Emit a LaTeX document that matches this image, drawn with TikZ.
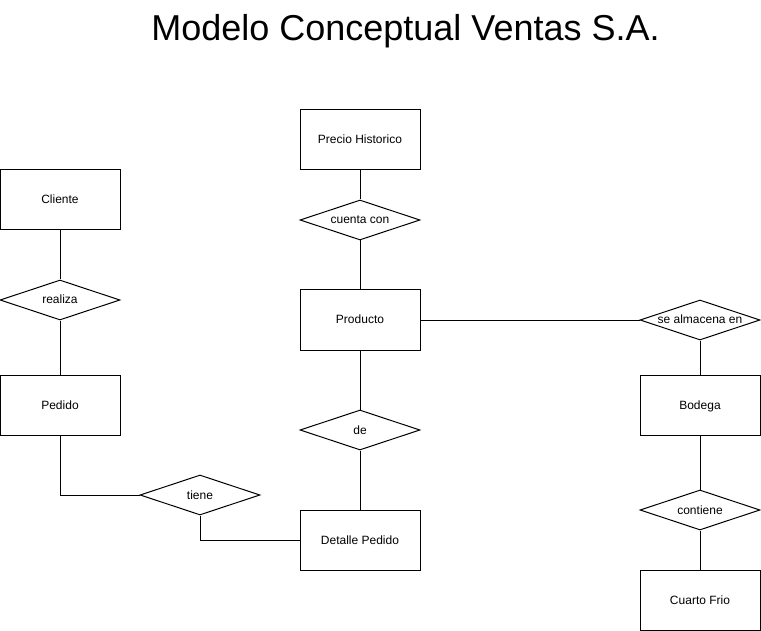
\documentclass[tikz,border=0pt]{standalone}
\usepackage{fontspec}
\setmainfont{Liberation Sans}
\usetikzlibrary{shapes.geometric}
\begin{document}
\begin{tikzpicture}[x=0.75pt,y=-0.75pt,
  line width=0.75pt,
  smalltext/.style={font=\fontsize{9pt}{11pt}\selectfont,text height=7.4pt,text depth=1.4pt},
  entity/.style={draw,rectangle,inner sep=0pt,minimum width=90pt,minimum height=45pt,smalltext},
  rel/.style={draw,diamond,shape aspect=3,inner sep=0pt,minimum width=90pt,minimum height=30pt},
  rellabel/.style={smalltext,inner sep=0pt},
  conn/.style={draw,line width=0.75pt}]
\useasboundingbox (0,0) rectangle (761,631);
\node[font=\fontsize{27pt}{32pt}\selectfont] (title) at (405.5,31) {Modelo Conceptual Ventas S.A.};

\node[entity] (precio) at (360,140) {Precio Historico};
\node[entity] (cliente) at (60,200) {Cliente};
\node[entity] (producto) at (360,320) {Producto};
\node[entity] (pedido) at (60,405) {Pedido};
\node[entity] (bodega) at (700,405) {Bodega};
\node[entity] (detalle) at (360,540) {Detalle Pedido};
\node[entity] (cuarto) at (700,600) {Cuarto Frio};

\node[rel,label={[rellabel]center:cuenta con}] (cuenta) at (360,220) {};
\node[rel,label={[rellabel]center:realiza}] (realiza) at (60,300) {};
\node[rel,label={[rellabel]center:de}] (de) at (360,430) {};
\node[rel,label={[rellabel]center:se almacena en}] (almacena) at (700,320) {};
\node[rel,label={[rellabel]center:tiene}] (tiene) at (200,495) {};
\node[rel,label={[rellabel]center:contiene}] (contiene) at (700,510) {};

\draw[conn] (precio.south) -- (cuenta.north);
\draw[conn] (cuenta.south) -- (producto.north);
\draw[conn] (cliente.south) -- (realiza.north);
\draw[conn] (realiza.south) -- (pedido.north);
\draw[conn] (producto.east) -- (almacena.west);
\draw[conn] (almacena.south) -- (bodega.north);
\draw[conn] (producto.south) -- (de.north);
\draw[conn] (de.south) -- (detalle.north);
\draw[conn] (pedido.south) |- (tiene.west);
\draw[conn] (tiene.south) |- (detalle.west);
\draw[conn] (bodega.south) -- (contiene.north);
\draw[conn] (contiene.south) -- (cuarto.north);
\end{tikzpicture}
\end{document}
